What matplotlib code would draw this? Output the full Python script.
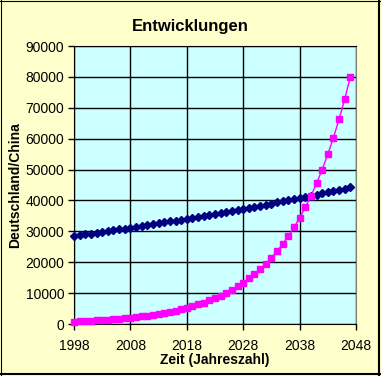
"""
Entwicklungen: Deutschland vs. China, 1998-2047 (Excel-style recreation).

  python3 plot.py   # writes out.png
"""
import matplotlib
matplotlib.use("Agg")
import matplotlib.pyplot as plt
from matplotlib.lines import Line2D

YEARS = list(range(1998, 2048))

DEUTSCHLAND = [
    28500, 28760, 29020, 29280, 29540, 29810, 30070, 30350, 30620, 30890,
    31170, 31450, 31740, 32020, 32310, 32600, 32890, 33190, 33490, 33790,
    34090, 34400, 34710, 35020, 35340, 35660, 35980, 36300, 36630, 36960,
    37290, 37630, 37960, 38310, 38650, 39000, 39350, 39700, 40060, 40420,
    40790, 41150, 41520, 41900, 42270, 42650, 43040, 43430, 43820, 44210,
]

CHINA = [
    800, 880, 970, 1060, 1170, 1280, 1410, 1550, 1700, 1870,
    2050, 2250, 2470, 2720, 2980, 3280, 3600, 3950, 4340, 4770,
    5240, 5760, 6330, 6950, 7630, 8390, 9210, 10120, 11120, 12210,
    13410, 14740, 16190, 17780, 19540, 21460, 23580, 25900, 28450, 31250,
    34340, 37720, 41430, 45520, 50000, 54930, 60340, 66290, 72820, 80000,
]

X_TICKS = [1998, 2008, 2018, 2028, 2038, 2048]
Y_TICKS = list(range(0, 90001, 10000))

FONT = ["Liberation Sans", "DejaVu Sans"]
W, H = 381, 376


def frame(fig) -> None:
    # chart-area border: thin top/left, heavier right/bottom like Excel
    def line(x0, y0, x1, y1, lw):
        fig.add_artist(Line2D([x0 / W, x1 / W], [y0 / H, y1 / H], color="black",
                              linewidth=lw, transform=fig.transFigure))
    line(0.5, 0, 0.5, H, 0.8)
    line(0, H - 0.5, W, H - 0.5, 0.8)
    line(W - 2, 0, W - 2, H, 1.5)
    line(0, 2, W, 2, 1.5)


def main() -> None:
    plt.rcParams["font.family"] = FONT

    fig = plt.figure(figsize=(W / 100, H / 100), dpi=100, facecolor="#FFFFCC")
    frame(fig)

    ax = fig.add_axes([74 / W, 52 / H, 282 / W, 278 / H])
    ax.set_facecolor("#CCFFFF")

    ax.plot(YEARS, DEUTSCHLAND, color="#000080", marker="D", markersize=4.2,
            linewidth=1, clip_on=False, zorder=3)
    ax.plot(YEARS, CHINA, color="#FF00FF", marker="s", markersize=4.2,
            linewidth=1, clip_on=False, zorder=4)

    ax.set_xlim(1998, 2048)
    ax.set_ylim(0, 90000)
    ax.set_xticks(X_TICKS)
    ax.set_yticks(Y_TICKS)
    ax.grid(True, color="black", linewidth=1)
    ax.set_axisbelow(True)

    ax.tick_params(direction="out", length=4, width=1, labelsize=10, colors="black")
    ax.tick_params(axis="x", pad=7)
    ax.tick_params(axis="y", pad=3)

    for side in ["left", "bottom", "top"]:
        ax.spines[side].set_color("black")
    ax.spines["right"].set_color("#808080")

    fig.text(190 / W, 1 - 27 / H, "Entwicklungen", fontsize=12, fontweight="bold",
             ha="center", va="center")
    ax.set_xlabel("Zeit (Jahreszahl)", fontsize=10, fontweight="bold", labelpad=0)
    ax.set_ylabel("Deutschland/China", fontsize=10, fontweight="bold", labelpad=2)

    fig.savefig("out.png", dpi=100, facecolor=fig.get_facecolor())
    plt.close(fig)


if __name__ == "__main__":
    main()
